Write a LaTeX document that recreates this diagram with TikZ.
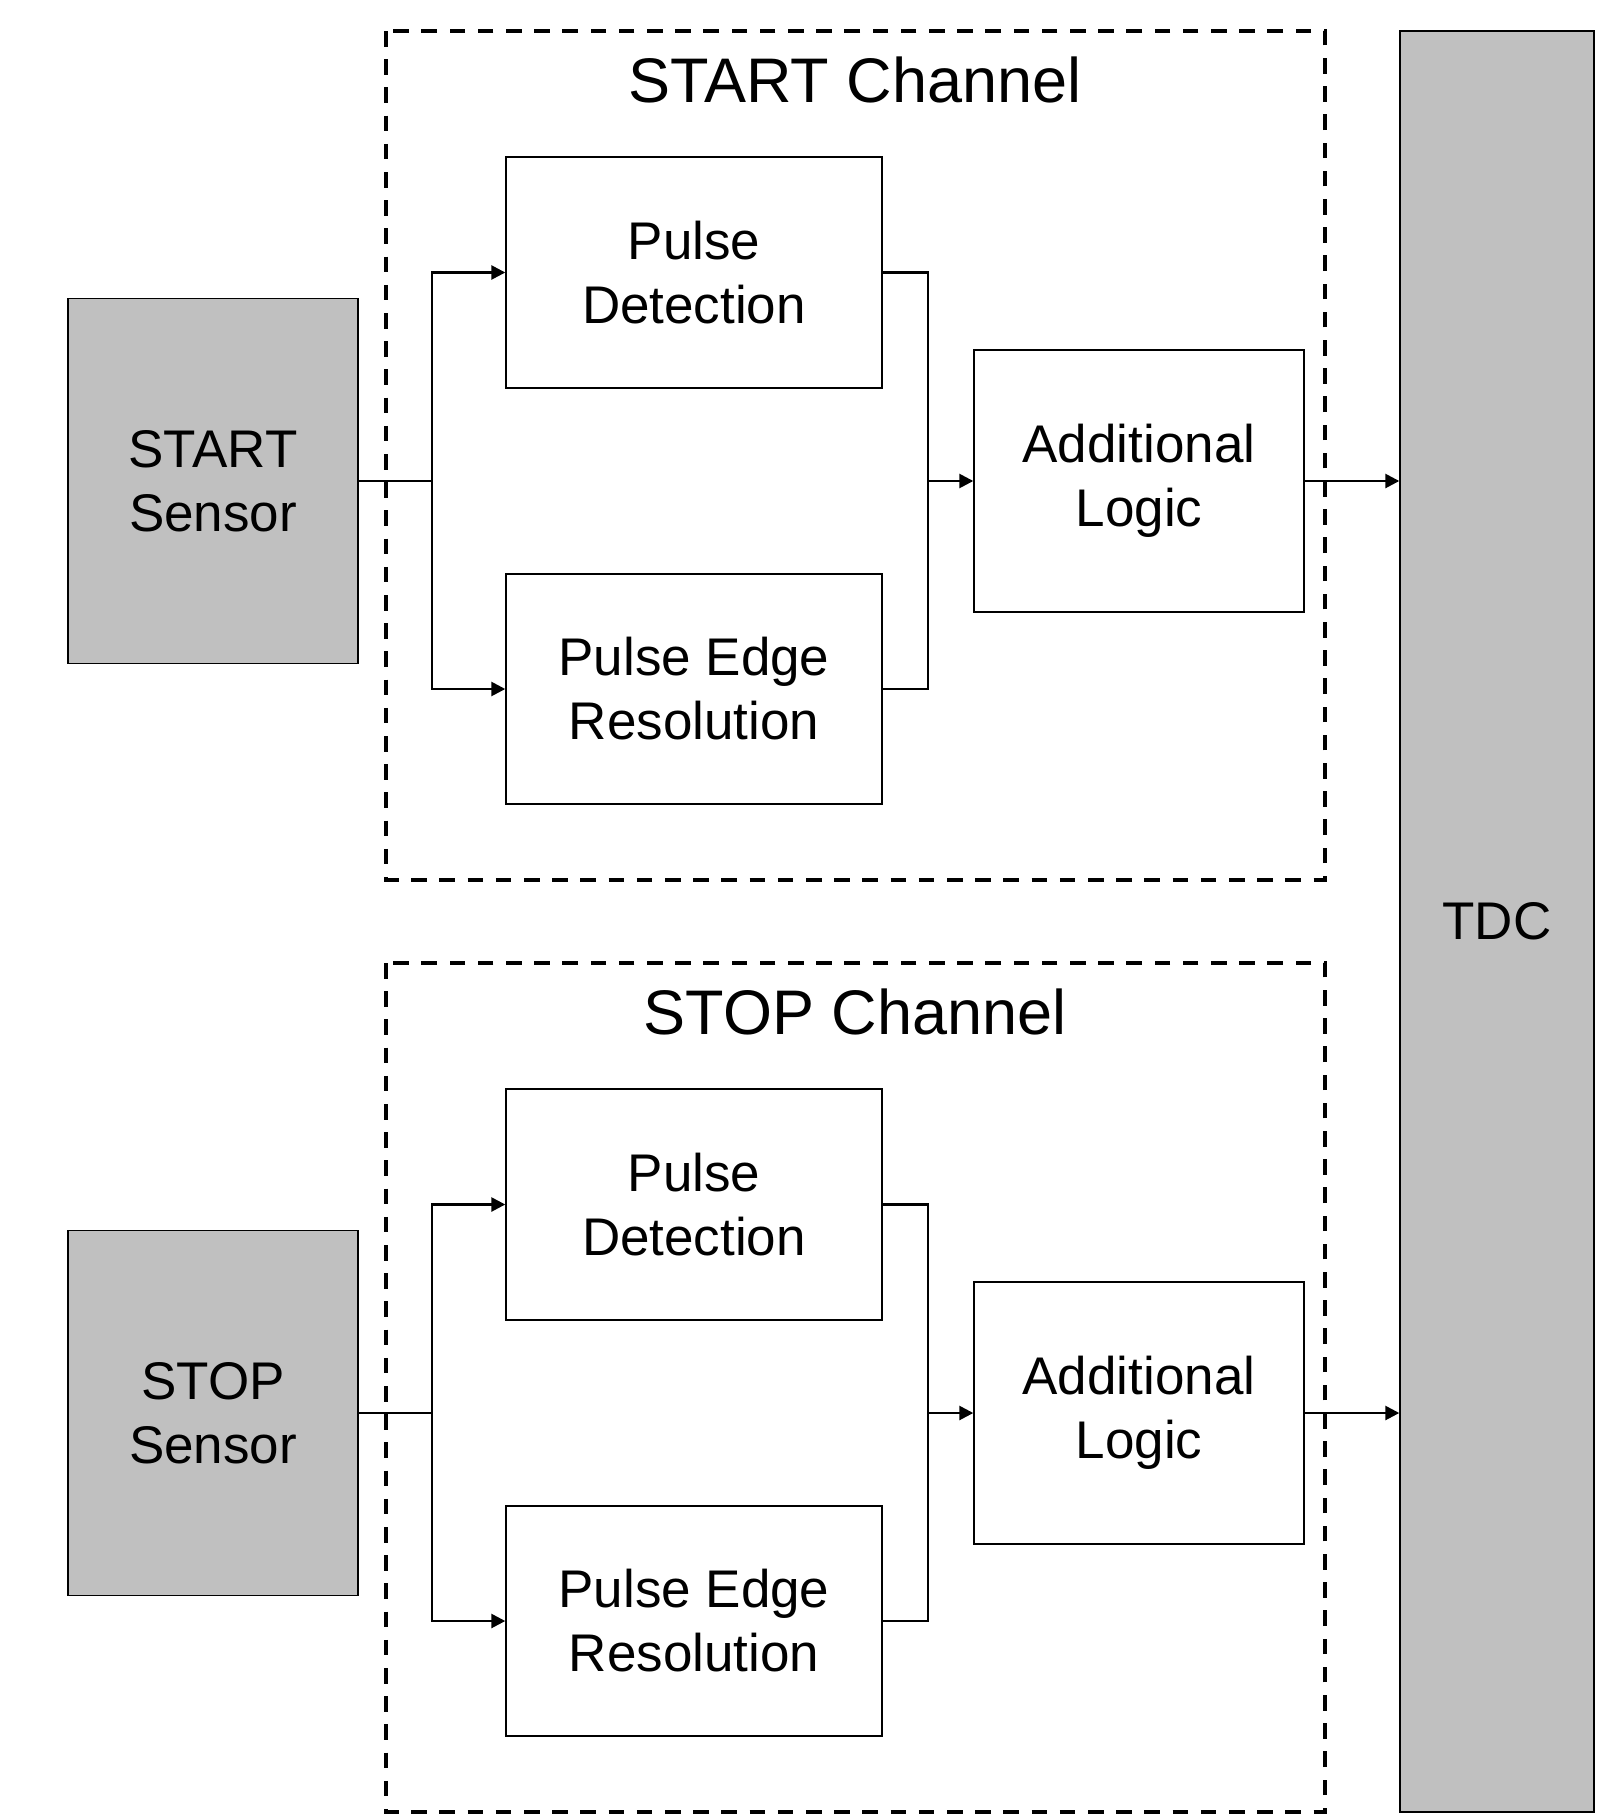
\documentclass[tikz,border=0pt]{standalone}
\usepackage{fontspec}
\setmainfont{Liberation Sans}
\usetikzlibrary{arrows.meta}
\definecolor{boxgray}{HTML}{C0C0C0}
\tikzset{
  blk/.style={draw=black, line width=0.7pt, fill=white, align=center,
    inner sep=0pt, font=\fontsize{26.5}{32}\selectfont},
  graybox/.style={blk, fill=boxgray},
  chan/.style={draw=black, line width=1.9pt, dash pattern=on 7.8pt off 6.3pt},
  wire/.style={line width=1.3pt},
  arr/.style={wire, -{Triangle[length=7pt,width=7pt]}}
}
\begin{document}
\begin{tikzpicture}[x=0.5pt,y=-0.5pt]
  \useasboundingbox (0,0) rectangle (1596,1815);

  % time to digital converter
  \node[graybox, minimum width=97pt, minimum height=890.5pt] (tdc) at (1497,921.5) {TDC};

  \foreach \name/\dy/\k in {START/0/a, STOP/932/b} {
    % channel frame
    \draw[chan] (386,{31+\dy}) rectangle (1325,{880+\dy});
    \node[font=\fontsize{31.5}{38}\selectfont] (title\k) at (855,{80+\dy}) {\name\ Channel};

    \node[graybox, minimum width=145pt, minimum height=182.5pt] (sen\k) at (213,{481+\dy}) {\name\\Sensor};
    \node[blk, minimum width=188pt, minimum height=115.5pt] (pd\k) at (694,{272.5+\dy}) {Pulse\\Detection};
    \node[blk, minimum width=188pt, minimum height=115pt] (per\k) at (694,{689+\dy}) {Pulse Edge\\Resolution};
    \node[blk, minimum width=165pt, minimum height=131pt] (al\k) at (1139,{481+\dy}) {Additional\\Logic};

    \coordinate (br\k) at (432,{481+\dy});
    \coordinate (mg\k) at (928,{481+\dy});

    % split
    \draw[wire] (sen\k.east) -- (br\k);
    \draw[arr] (br\k) |- (pd\k.west);
    \draw[arr] (br\k) |- (per\k.west);
    % merge
    \draw[wire] (pd\k.east) -| (mg\k) |- (per\k.east);
    \draw[arr] (mg\k) -- (al\k.west);
    \draw[arr] (al\k.east) -- (al\k.east -| tdc.west);
  }
\end{tikzpicture}
\end{document}
